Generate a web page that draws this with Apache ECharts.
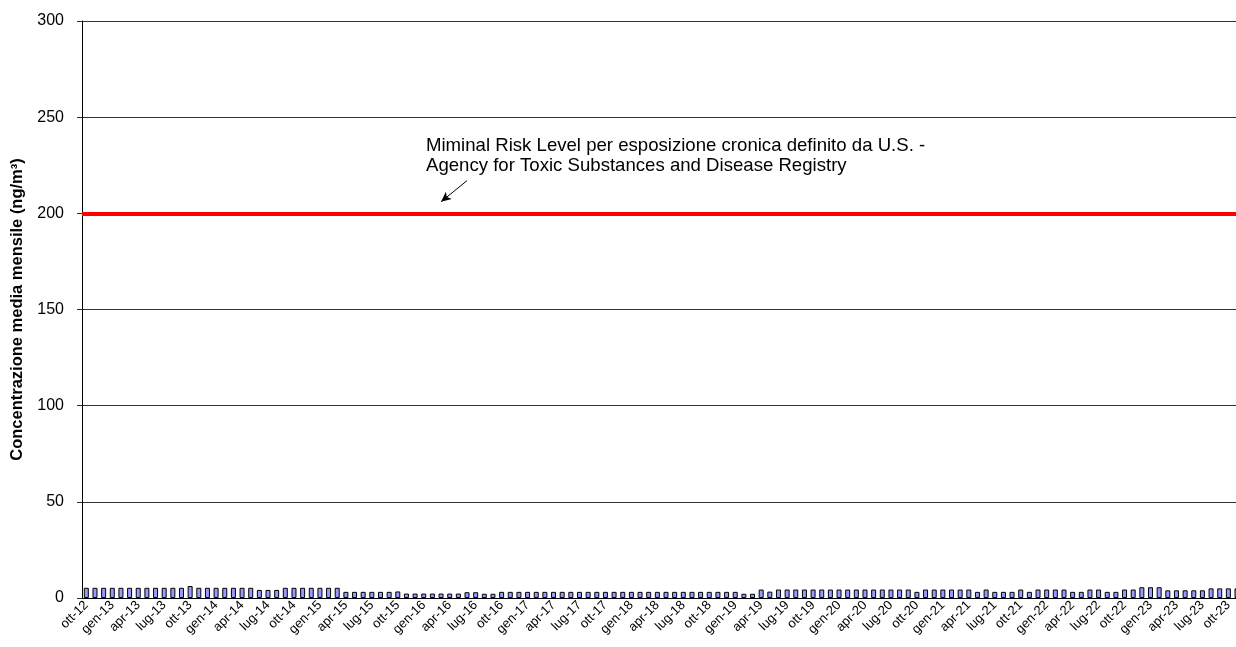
<!DOCTYPE html>
<html lang="it">
<head>
<meta charset="UTF-8">
<title>Concentrazione media mensile</title>
<script src="https://cdn.jsdelivr.net/npm/echarts@6/dist/echarts.min.js"></script>
<style>
    html, body {
        margin: 0;
        padding: 0;
        overflow: hidden;
        background: #fff;
    }
    /* the plot runs past the right edge of the window, as in the original */
    #chart {
        width: 1262px;
        height: 647px;
    }
</style>
</head>
<body>

<div id="chart"></div>

<script>
// months (Italian abbreviations) and years of the category axis
var monthNames = ['gen', 'feb', 'mar', 'apr', 'mag', 'giu', 'lug', 'ago', 'set', 'ott', 'nov', 'dic'];
var firstYear = 12, firstMonth = 9; // ott-12
var lastYear = 23, lastMonth = 11;  // dic-23

// monthly mean concentration (ng/m3), one array per year
var v2012 = [5.3, 5.3, 5.3];
var v2013 = [5.3, 5.3, 5.3, 5.3, 5.3, 5.3, 5.3, 5.3, 5.3, 6.2, 5.3, 5.3];
var v2014 = [5.3, 5.3, 5.3, 5.3, 5.3, 4.2, 4.2, 4.2, 5.3, 5.3, 5.3, 5.3];
var v2015 = [5.3, 5.3, 5.3, 3.2, 3.2, 3.2, 3.2, 3.2, 3.2, 3.4, 2.3, 2.3];
var v2016 = [2.3, 2.3, 2.3, 2.3, 2.3, 3.0, 3.0, 2.2, 2.2, 3.2, 3.2, 3.2];
var v2017 = [3.2, 3.2, 3.2, 3.2, 3.2, 3.2, 3.2, 3.2, 3.2, 3.2, 3.2, 3.2];
var v2018 = [3.2, 3.2, 3.2, 3.2, 3.2, 3.2, 3.2, 3.2, 3.2, 3.2, 3.2, 3.2];
var v2019 = [3.2, 2.2, 2.2, 4.4, 3.3, 4.4, 4.4, 4.4, 4.4, 4.4, 4.4, 4.4];
var v2020 = [4.4, 4.4, 4.4, 4.4, 4.4, 4.4, 4.4, 4.4, 4.4, 3.2, 4.4, 4.4];
var v2021 = [4.4, 4.4, 4.4, 4.4, 3.2, 4.4, 3.2, 3.2, 3.2, 4.4, 3.2, 4.4];
var v2022 = [4.4, 4.4, 4.4, 3.2, 3.2, 4.4, 4.4, 3.2, 3.2, 4.4, 4.4, 5.6];
var v2023 = [5.6, 5.6, 4.0, 4.0, 4.0, 4.0, 4.0, 5.0, 5.0, 5.0, 5.0, 5.0];

var riskLevel = 200;
var riskText = 'Miminal Risk Level per esposizione cronica definito da U.S. -\nAgency for Toxic Substances and Disease Registry';
var yTicks = [0, 300, 50]; // min, max, step

var months = [];
for (var y = firstYear; y <= lastYear; y++) {
    var m0 = (y === firstYear) ? firstMonth : 0;
    var m1 = (y === lastYear) ? lastMonth : 11;
    for (var m = m0; m <= m1; m++) {
        months.push(monthNames[m] + '-' + y);
    }
}
var values = [].concat(v2012, v2013, v2014, v2015, v2016, v2017, v2018,
                       v2019, v2020, v2021, v2022, v2023);

var font = 'Arial, "Liberation Sans", sans-serif';
var chartDom = document.getElementById('chart');
var myChart = echarts.init(chartDom);
var option;

option = {
    animation: false,
    textStyle: { fontFamily: font },
    grid: { left: 82, right: 12, top: 21, bottom: 49, containLabel: false, outerBoundsMode: 'none' },
    xAxis: {
        type: 'category',
        data: months,
        boundaryGap: true,
        axisLine: { lineStyle: { color: '#000', width: 1 } },
        axisTick: { interval: 2, length: 5, lineStyle: { color: '#000' } },
        axisLabel: {
            interval: 2,
            rotate: 45,
            margin: 5,
            fontSize: 13,
            color: '#000',
            fontFamily: font
        }
    },
    yAxis: {
        type: 'value',
        min: yTicks[0],
        max: yTicks[1],
        interval: yTicks[2],
        name: 'Concentrazione media mensile (ng/m³)',
        nameLocation: 'middle',
        nameGap: 55,
        nameTextStyle: { fontSize: 16.5, fontWeight: 'bold', color: '#000', fontFamily: font },
        axisLine: { show: true, lineStyle: { color: '#000', width: 1 } },
        axisTick: { show: true, length: 5, lineStyle: { color: '#333' } },
        splitLine: { lineStyle: { color: '#333', width: 1 } },
        axisLabel: { fontSize: 16, margin: 18, color: '#000', fontFamily: font }
    },
    graphic: [
        {
            type: 'text',
            left: 426,
            top: 136,
            style: {
                text: riskText,
                font: '18.6px ' + font,
                lineHeight: 20,
                fill: '#000'
            }
        }
    ],
    series: [
        {
            type: 'bar',
            data: values,
            barWidth: 5,
            itemStyle: { color: '#9999FF', borderColor: '#000', borderWidth: 1 },
            markLine: {
                silent: true,
                symbol: ['none', 'none'],
                label: { show: false },
                data: [
                    {
                        yAxis: riskLevel,
                        lineStyle: { color: '#FF0000', width: 4, type: 'solid' }
                    },
                    [
                        { coord: [months[44], 217] },
                        { coord: [months[41], 206], symbol: 'arrow', symbolSize: [7, 10] }
                    ]
                ],
                lineStyle: { color: '#000', width: 1, type: 'solid' }
            }
        }
    ]
};

myChart.setOption(option);
</script>

</body>
</html>
